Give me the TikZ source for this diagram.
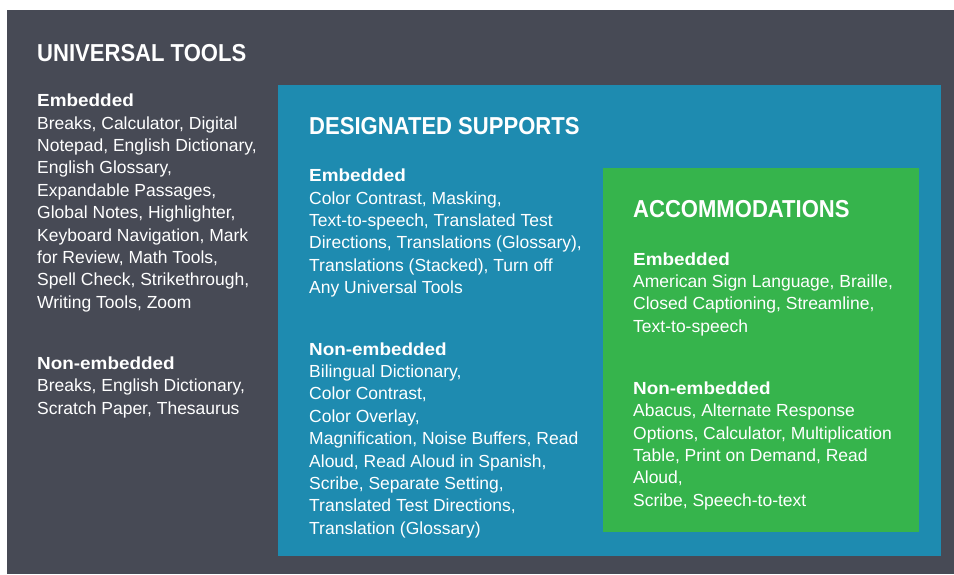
\documentclass[tikz,border=0pt]{standalone}
\usepackage{fontspec}
\setmainfont{Liberation Sans}
\newfontfamily\ttlfont[FakeStretch=0.9]{Liberation Sans}
\newfontfamily\hdfont[FakeStretch=1.08]{Liberation Sans}

\definecolor{toolsgray}{RGB}{71,74,85}
\definecolor{supportblue}{RGB}{30,139,176}
\definecolor{accomgreen}{RGB}{54,180,76}

% heading line followed by the listed items, first baseline on the anchor
\newcommand{\listblock}[2]{%
  \begin{tabular}[t]{@{}l@{}}{\hdfont\bfseries #1}\\#2\end{tabular}}

\tikzset{
  tiertitle/.style={anchor=base west, inner sep=0pt, text=white,
    font=\ttlfont\bfseries\fontsize{24.5}{30}\selectfont},
  tierlist/.style={anchor=base west, inner sep=0pt, text=white,
    font=\fontsize{17.5}{22.4}\selectfont},
}

\begin{document}
\begin{tikzpicture}[x=1pt,y=-1pt]
  \useasboundingbox (0,0) rectangle (954,574);
  \fill[white] (0,0) rectangle (954,574);

  % nested tiers
  \fill[toolsgray]   (7,10)   rectangle (954,574);
  \fill[supportblue] (278,85) rectangle (941,556);
  \fill[accomgreen]  (603,168) rectangle (919,532);

  % universal tools
  \node[tiertitle] (utTitle) at (37,61) {UNIVERSAL TOOLS};
  \node[tierlist] (utEmb) at (37,106.7) {\listblock{Embedded}{%
    Breaks, Calculator, Digital\\
    Notepad, English Dictionary,\\
    English Glossary,\\
    Expandable Passages,\\
    Global Notes, Highlighter,\\
    Keyboard Navigation, Mark\\
    for Review, Math Tools,\\
    Spell Check, Strikethrough,\\
    Writing Tools, Zoom}};
  \node[tierlist] (utNon) at (37,369.5) {\listblock{Non-embedded}{%
    Breaks, English Dictionary,\\
    Scratch Paper, Thesaurus}};

  % designated supports
  \node[tiertitle] (dsTitle) at (309,134) {DESIGNATED SUPPORTS};
  \node[tierlist] (dsEmb) at (309,181.7) {\listblock{Embedded}{%
    Color Contrast, Masking,\\
    Text-to-speech, Translated Test\\
    Directions, Translations (Glossary),\\
    Translations (Stacked), Turn off\\
    Any Universal Tools}};
  \node[tierlist] (dsNon) at (309,355) {\listblock{Non-embedded}{%
    Bilingual Dictionary,\\
    Color Contrast,\\
    Color Overlay,\\
    Magnification, Noise Buffers, Read\\
    Aloud, Read Aloud in Spanish,\\
    Scribe, Separate Setting,\\
    Translated Test Directions,\\
    Translation (Glossary)}};

  % accommodations
  \node[tiertitle] (acTitle) at (633,217.7) {ACCOMMODATIONS};
  \node[tierlist] (acEmb) at (633,265) {\listblock{Embedded}{%
    American Sign Language, Braille,\\
    Closed Captioning, Streamline,\\
    Text-to-speech}};
  \node[tierlist] (acNon) at (633,394.3) {\listblock{Non-embedded}{%
    Abacus, Alternate Response\\
    Options, Calculator, Multiplication\\
    Table, Print on Demand, Read\\
    Aloud,\\
    Scribe, Speech-to-text}};
\end{tikzpicture}
\end{document}
